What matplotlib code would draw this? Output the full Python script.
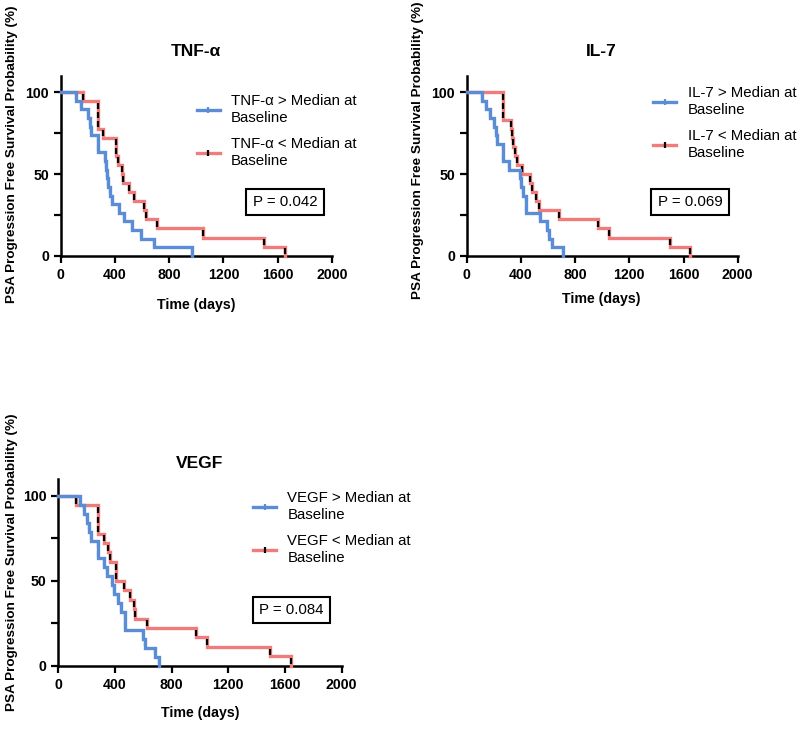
import matplotlib
matplotlib.use("Agg")
import matplotlib.pyplot as plt
from matplotlib.lines import Line2D
import numpy as np

plt.rcParams['font.family'] = ['Liberation Sans', 'DejaVu Sans']

# ---------------- data ----------------
tnf_hi_t = [110, 147, 204, 216, 223, 273, 278, 327, 334, 344, 351, 363, 380, 430, 467, 528, 592, 686, 966]
tnf_hi_s = [94.7, 89.5, 84.2, 78.9, 73.7, 68.4, 63.2, 57.9, 52.6, 47.4, 42.1, 36.8, 31.6, 26.3, 21.1, 15.8, 10.5, 5.3, 0]
tnf_lo_t = [167, 277, 277, 277, 314, 405, 405, 425, 450, 462, 504, 541, 617, 626, 708, 1052, 1500, 1650]
tnf_lo_s = [94.4, 88.9, 83.3, 77.8, 72.2, 66.7, 61.1, 55.6, 50.0, 44.4, 38.9, 33.3, 27.8, 22.2, 16.7, 11.1, 5.6, 0]

il7_hi_t = [111, 142, 172, 204, 216, 226, 270, 270, 312, 393, 401, 418, 437, 437, 541, 595, 610, 627, 708]
il7_hi_s = [94.7, 89.5, 84.2, 78.9, 73.7, 68.4, 63.2, 57.9, 52.6, 47.4, 42.1, 36.8, 31.6, 26.3, 21.1, 15.8, 10.5, 5.3, 0]
il7_lo_t = [270, 270, 270, 324, 332, 344, 356, 374, 406, 467, 480, 511, 533, 683, 971, 1052, 1500, 1647]
il7_lo_s = [94.4, 88.9, 83.3, 77.8, 72.2, 66.7, 61.1, 55.6, 50.0, 44.4, 38.9, 33.3, 27.8, 22.2, 16.7, 11.1, 5.6, 0]

vegf_hi_t = [153, 181, 205, 219, 231, 278, 278, 325, 341, 377, 393, 424, 442, 471, 471, 600, 612, 682, 711]
vegf_hi_s = [94.7, 89.5, 84.2, 78.9, 73.7, 68.4, 63.2, 57.9, 52.6, 47.4, 42.1, 36.8, 31.6, 26.3, 21.1, 15.8, 10.5, 5.3, 0]
vegf_lo_t = [123, 282, 282, 282, 325, 353, 365, 405, 405, 466, 506, 534, 545, 624, 970, 1047, 1494, 1640]
vegf_lo_s = [94.4, 88.9, 83.3, 77.8, 72.2, 66.7, 61.1, 55.6, 50.0, 44.4, 38.9, 33.3, 27.8, 22.2, 16.7, 11.1, 5.6, 0]

titles = ["TNF-\u03b1", "IL-7", "VEGF"]
p_values = ["P = 0.042", "P = 0.069", "P = 0.084"]
x_ticks = [0, 400, 800, 1200, 1600, 2000]
y_ticks = [0, 50, 100]
y_minor = [25, 75]
ylabel = "PSA Progression Free Survival Probability (%)"
xlabel = "Time (days)"

BLUE = '#5b8dd6'
RED = '#f07b7b'

W, H = 800, 745
fig = plt.figure(figsize=(W / 100, H / 100), dpi=100)


def px_axes(x0, x1, y0, ytop):
    return fig.add_axes([x0 / W, 1 - y0 / H, (x1 - x0) / W, (y0 - ytop) / H])


panels = [
    dict(rect=(60.7, 332.0, 255.7, 76.0), data=(tnf_hi_t, tnf_hi_s, tnf_lo_t, tnf_lo_s),
         leg=(0.501, 0.898), pbox=(0.827, 0.299), title_xy=(196, 52),
         ylab_xy=(12, 154), xlab_xy=(196, 305)),
    dict(rect=(466.7, 737.7, 255.7, 76.0), data=(il7_hi_t, il7_hi_s, il7_lo_t, il7_lo_s),
         leg=(0.6875, 0.943), pbox=(0.824, 0.299), title_xy=(601, 52),
         ylab_xy=(418, 150), xlab_xy=(601, 299)),
    dict(rect=(58.3, 341.6, 665.7, 479.0), data=(vegf_hi_t, vegf_hi_s, vegf_lo_t, vegf_lo_s),
         leg=(0.687, 0.934), pbox=(0.823, 0.298), title_xy=(200, 463),
         ylab_xy=(12, 562), xlab_xy=(200, 713)),
]

for i, p in enumerate(panels):
    ax = px_axes(*p['rect'])
    hi_t, hi_s, lo_t, lo_s = p['data']
    name = titles[i]

    for t, s, col, mcol, z in [(lo_t, lo_s, RED, 'black', 3), (hi_t, hi_s, BLUE, BLUE, 4)]:
        xs = [0] + list(t)
        ys = [100] + list(s)
        ax.plot(xs, ys, drawstyle='steps-post', color=col, lw=2.4, zorder=z,
                solid_joinstyle='miter', clip_on=False)
        mid = [(ys[k] + ys[k + 1]) / 2 for k in range(len(t))]
        ax.plot(t, mid, ls='none', marker='|', ms=4, mew=1.6, color=mcol, zorder=z + 0.5,
                clip_on=False)

    ax.set_xlim(0, 2000)
    ax.set_ylim(0, 110)
    ax.set_xticks(x_ticks)
    ax.set_xticklabels([str(v) for v in x_ticks], fontweight='bold', fontsize=10.2)
    ax.set_yticks(y_ticks)
    ax.set_yticklabels([str(v) for v in y_ticks], fontweight='bold', fontsize=10.2)
    ax.set_yticks(y_minor, minor=True)
    ax.tick_params(axis='both', which='major', direction='out', length=5, width=1.6, pad=3.5)
    ax.tick_params(axis='y', which='minor', direction='out', length=5, width=1.6)
    for side in ['top', 'right']:
        ax.spines[side].set_visible(False)
    for side in ['left', 'bottom']:
        ax.spines[side].set_linewidth(1.8)

    handles = [
        Line2D([], [], color=BLUE, lw=2.4, marker='|', ms=4, mew=1.6, mec=BLUE),
        Line2D([], [], color=RED, lw=2.4, marker='|', ms=4, mew=1.6, mec='black'),
    ]
    labels = [f"{name} > Median at\nBaseline", f"{name} < Median at\nBaseline"]
    leg = ax.legend(handles, labels, loc='upper left', bbox_to_anchor=p['leg'],
                    frameon=False, fontsize=10.8, handlelength=1.55, handletextpad=0.75,
                    labelspacing=0.8, borderpad=0, borderaxespad=0, markerfirst=True)
    for txt in leg.get_texts():
        txt.set_linespacing(1.25)

    ax.text(p['pbox'][0], p['pbox'][1], p_values[i], transform=ax.transAxes,
            ha='center', va='center', fontsize=10.8,
            bbox=dict(boxstyle='square,pad=0.42', fc='white', ec='black', lw=1.5))

    tx, ty = p['title_xy']
    fig.text(tx / W, 1 - ty / H, name, ha='center', va='center', fontsize=12.5,
             fontweight='bold')
    lx, ly = p['ylab_xy']
    fig.text(lx / W, 1 - ly / H, ylabel, ha='center', va='center', rotation=90,
             fontsize=9.7, fontweight='bold')
    xx, xy = p['xlab_xy']
    fig.text(xx / W, 1 - xy / H, xlabel, ha='center', va='center', fontsize=10.2,
             fontweight='bold')

fig.savefig('out.png', dpi=100, facecolor='white')
